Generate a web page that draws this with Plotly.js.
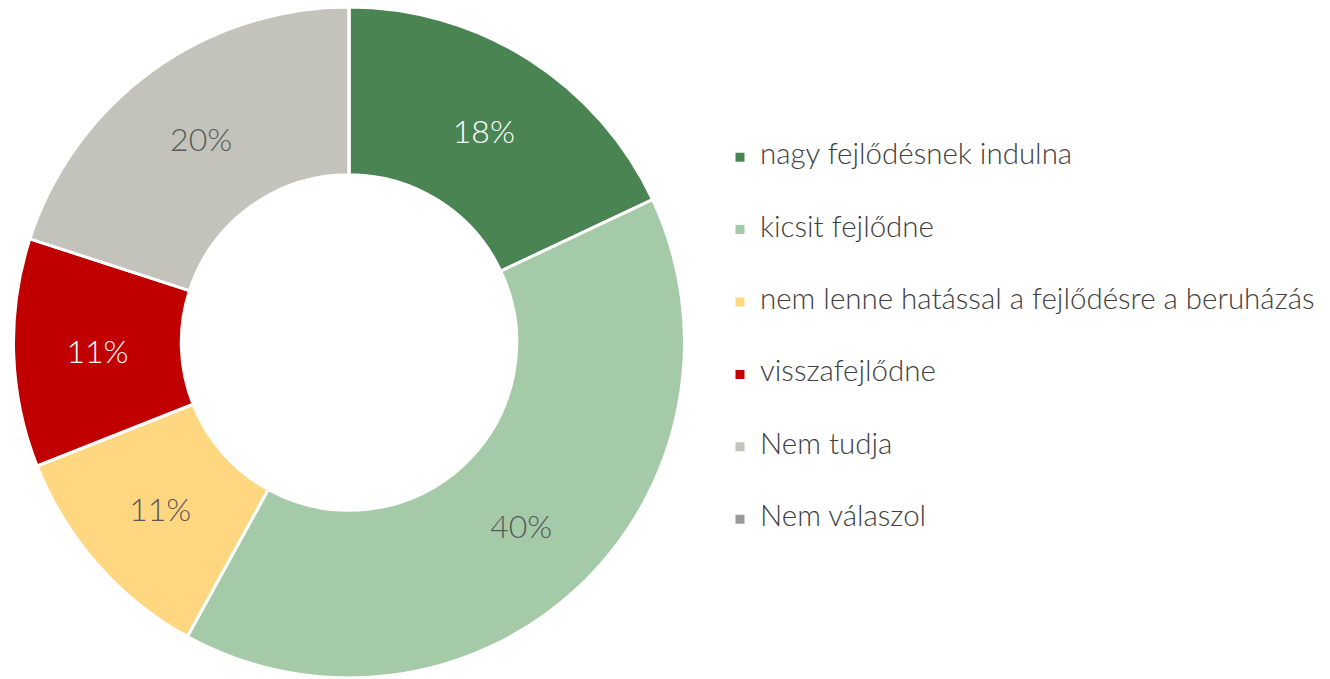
<!DOCTYPE html>
<html>
<head>
<meta charset="utf-8">
<script src="https://cdn.plot.ly/plotly-3.0.1.min.js"></script>
<style>html,body{margin:0;padding:0;background:#fff;}#chart{width:1330px;height:679px;}</style>
</head>
<body>
<div id="chart"></div>
<script>
const labels = ['nagy fejlődésnek indulna', 'kicsit fejlődne', 'nem lenne hatással a fejlődésre a beruházás', 'visszafejlődne', 'Nem tudja', 'Nem válaszol'];
const values = [18, 40, 11, 11, 20, 0];
const colors = ['#4a8453', '#a4caa8', '#ffd780', '#c00000', '#c3c3bb', '#999999'];
const textColors = ['#ffffff', '#595959', '#595959', '#ffffff', '#595959', '#595959'];

const FONT = 'Lato, "Open Sans", sans-serif';
const legendLabels = labels.map(l => '\u00a0<br><span style="font-size:29.5px">' + l + '</span><br>\u00a0');

const trace = {
  type: 'pie',
  labels: legendLabels,
  values: values,
  hole: 0.5,
  sort: false,
  direction: 'clockwise',
  rotation: 0,
  marker: {colors: colors, line: {color: '#ffffff', width: 3}},
  texttemplate: '%{percent:.0%}',
  textposition: 'inside',
  insidetextorientation: 'horizontal',
  insidetextfont: {family: FONT, size: 32, color: textColors, weight: 300},
  hoverinfo: 'none',
  domain: {x: [0, 698/1330], y: [0, 1]}
};

const layout = {
  width: 1330, height: 679,
  margin: {l: 0, r: 0, t: 7, b: 1},
  paper_bgcolor: '#ffffff',
  showlegend: true,
  legend: {
    x: 720/1330, xanchor: 'left',
    y: 0.506, yanchor: 'middle',
    font: {family: FONT, size: 17.8, color: '#404040', weight: 300},
    bgcolor: 'rgba(0,0,0,0)',
    traceorder: 'normal'
  }
};

Plotly.newPlot('chart', [trace], layout, {displayModeBar: false, staticPlot: true});
</script>
</body>
</html>
